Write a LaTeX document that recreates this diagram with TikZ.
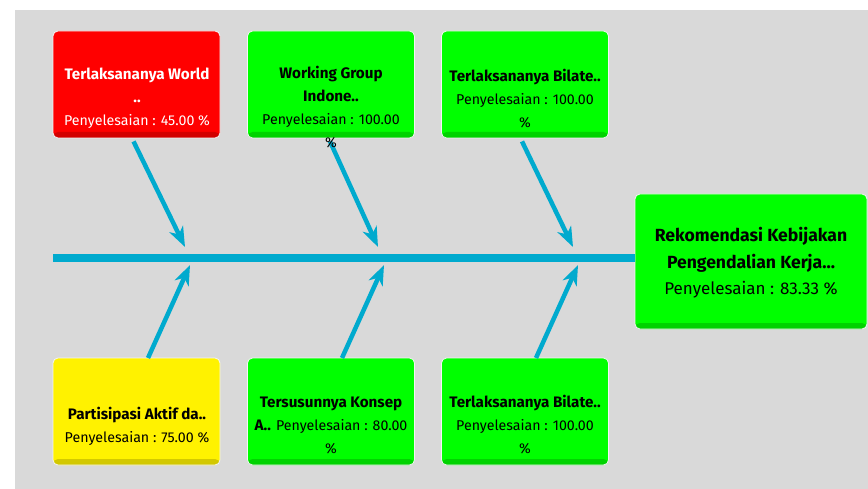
\documentclass[tikz,border=0pt]{standalone}
\usepackage{fontspec}
\setmainfont{Fira Sans}
\usetikzlibrary{arrows.meta}
\definecolor{bggray}{RGB}{217,217,217}
\definecolor{bone}{RGB}{0,170,206}
\definecolor{okgreen}{RGB}{0,255,0}
\definecolor{badred}{RGB}{255,0,0}
\definecolor{midyellow}{RGB}{255,242,0}
% bold title text, set a little larger than the status line
\newcommand\boxtitle[1]{{\fontsize{15.2}{23}\selectfont\bfseries #1}}
\newcommand\bigtitle[1]{{\fontsize{17.6}{26.5}\selectfont\bfseries #1}}
\tikzset{
  causebox/.style={rounded corners=5pt, minimum width=167pt, minimum height=107pt,
    inner sep=0pt, fill=#1, draw=white!75!bggray, line width=0.8pt,
    path picture={\shade[top color=#1, bottom color=#1!82!black]
      ([yshift=6pt]path picture bounding box.south west) rectangle
      (path picture bounding box.south east);}},
  effectbox/.style={causebox=#1, minimum width=232pt, minimum height=135pt},
  boxtext/.style={align=center, inner sep=0pt, font=\fontsize{14.2}{23}\selectfont},
  bigtext/.style={align=center, inner sep=0pt, font=\fontsize{17}{26.5}\selectfont},
  rib/.style={draw=bone, line width=4.5pt,
    -{Stealth[length=20pt, width=15pt, inset=6pt]}},
  spine/.style={draw=bone, line width=8pt}
}
\begin{document}
\begin{tikzpicture}[x=1pt, y=-1pt]
  \useasboundingbox (0,0) rectangle (868,489);
  \fill[bggray] (15,10) rectangle (868,489);

  % cause boxes, upper row
  \node[causebox=badred]    (t1) at (136.5,84.5) {};
  \node[causebox=okgreen]   (t2) at (331,84.5) {};
  \node[causebox=okgreen]   (t3) at (525,84.5) {};
  % cause boxes, lower row
  \node[causebox=midyellow] (b1) at (136.5,411.5) {};
  \node[causebox=okgreen]   (b2) at (331,411.5) {};
  \node[causebox=okgreen]   (b3) at (525,411.5) {};
  % effect box
  \node[effectbox=okgreen]  (eff) at (751,261.5) {};

  % spine and rib end points
  \coordinate (sl) at (53,258);
  \coordinate (u1) at (185,247);
  \coordinate (u2) at (378,247);
  \coordinate (u3) at (573,247);
  \coordinate (d1) at (190,265);
  \coordinate (d2) at (384,265);
  \coordinate (d3) at (578,265);
  \coordinate (s1) at (148,358);
  \coordinate (s2) at (342,358);
  \coordinate (s3) at (536,358);

  \draw[spine] (sl) -- (eff.west |- sl);
  \draw[rib] ([xshift=-3pt]t1.south) ++(0,3) -- (u1);
  \draw[rib] ([xshift=-1pt]t2.south) ++(0,3) -- (u2);
  \draw[rib] ([xshift=-3pt]t3.south) ++(0,3) -- (u3);
  \draw[rib] (s1) -- (d1);
  \draw[rib] (s2) -- (d2);
  \draw[rib] (s3) -- (d3);

  % labels
  \node[boxtext, text=white] (t1l) at (137,98.5)
    {\boxtitle{Terlaksananya World}\\\boxtitle{..}\\Penyelesaian : 45.00 \%};
  \node[boxtext] (t2l) at (331,107)
    {\boxtitle{Working Group}\\\boxtitle{Indone..}\\Penyelesaian : 100.00\\\%};
  \node[boxtext] (t3l) at (525,99)
    {\boxtitle{Terlaksananya Bilate..}\\Penyelesaian : 100.00\\\%};
  \node[boxtext] (b1l) at (137,426)
    {\boxtitle{Partisipasi Aktif da..}\\Penyelesaian : 75.00 \%};
  \node[boxtext] (b2l) at (331,425)
    {\boxtitle{Tersusunnya Konsep}\\\boxtitle{A..} Penyelesaian : 80.00\\\%};
  \node[boxtext] (b3l) at (525,425)
    {\boxtitle{Terlaksananya Bilate..}\\Penyelesaian : 100.00\\\%};
  \node[bigtext] (effl) at (751,263)
    {\bigtitle{Rekomendasi Kebijakan}\\\bigtitle{Pengendalian Kerja...}\\Penyelesaian : 83.33 \%};
\end{tikzpicture}
\end{document}
